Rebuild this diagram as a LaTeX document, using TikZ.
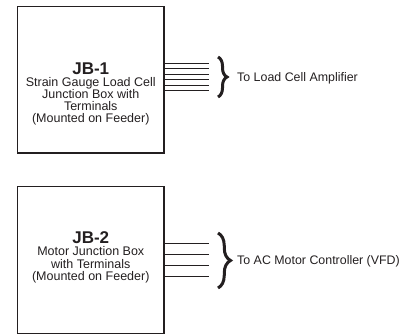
\documentclass[tikz,border=0pt]{standalone}
\usepackage{fontspec}
\setmainfont{Liberation Sans}
\usetikzlibrary{decorations.pathreplacing}
\definecolor{ink}{RGB}{35,31,32}
\tikzset{
  jbox/.style={draw=ink, line width=1.2bp, rectangle, inner sep=0pt, minimum width=146.5bp, minimum height=146.5bp},
  jtext/.style={align=center, inner sep=0pt, text=ink, anchor=north, font=\fontsize{12.5bp}{12.1bp}\selectfont},
  wire/.style={draw=ink, line width=0.8bp},
  cbrace/.style={draw=ink, line width=3bp, decorate, decoration={brace, aspect=0.5}},
  dest/.style={inner sep=0pt, text=ink, anchor=base west, font=\fontsize{12.4bp}{14bp}\selectfont}
}
\begin{document}
\begin{tikzpicture}[x=1bp, y=-1bp]
\useasboundingbox (0,0) rectangle (409,335);
% boxes
\node[jbox] (jb1) at (90.75,79.75) {};
\node[jbox] (jb2) at (90.75,260) {};
\node[jtext] (jb1t) at (90.75,62.3) {{\fontsize{17bp}{17bp}\selectfont\bfseries JB-1}\\Strain Gauge Load Cell\\Junction Box with\\Terminals\\(Mounted on Feeder)};
\node[jtext] (jb2t) at (90.75,231.8) {{\fontsize{17bp}{17bp}\selectfont\bfseries JB-2}\\Motor Junction Box\\with Terminals\\(Mounted on Feeder)};
% wires box 1
\foreach \i [count=\k] in {63.3,68.8,74.3,79.8,85.3,90.8} {
  \coordinate (a\k) at (209,\i);
  \draw[wire] (jb1.east |- a\k) -- (a\k);
}
% wires box 2
\foreach \i [count=\k] in {243.3,254.4,265.5,276.6} {
  \coordinate (b\k) at (209,\i);
  \draw[wire] (jb2.east |- b\k) -- (b\k);
}
% braces
\coordinate (br1t) at (218,57);
\coordinate (br1b) at (218,97);
\draw[cbrace, decoration={amplitude=9bp}] (br1t) -- (br1b);
\coordinate (br2t) at (218,233);
\coordinate (br2b) at (218,288);
\draw[cbrace, decoration={amplitude=12.5bp}] (br2t) -- (br2b);
% destinations
\node[dest] (d1) at (237,81.5) {To Load Cell Amplifier};
\node[dest] (d2) at (237,264) {To AC Motor Controller (VFD)};
\end{tikzpicture}
\end{document}
